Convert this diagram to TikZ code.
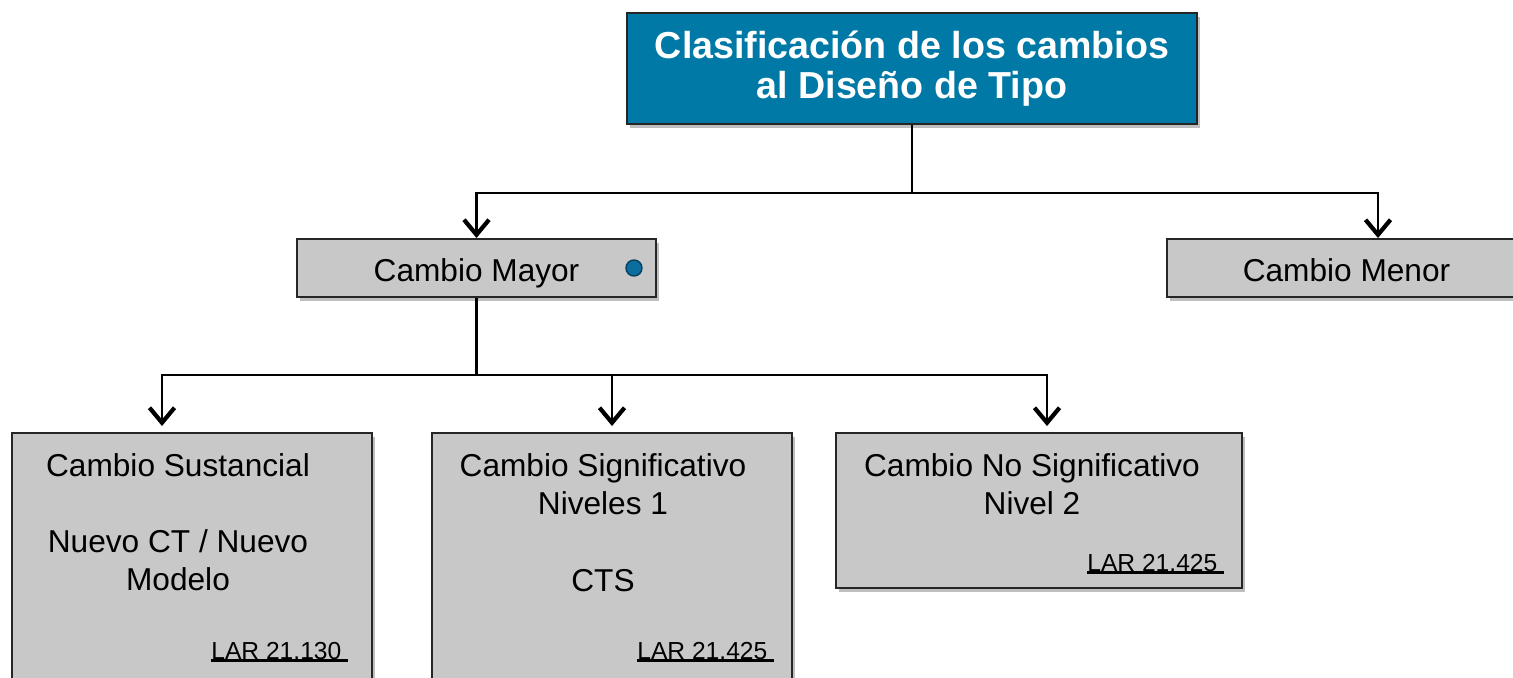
\documentclass[tikz,border=0pt]{standalone}
\usepackage{fontspec}
\setmainfont{Liberation Sans}
\usetikzlibrary{positioning,shadows,arrows.meta}

\definecolor{titleblue}{HTML}{0079A6}
\definecolor{boxgray}{HTML}{C8C8C8}
\definecolor{dotblue}{HTML}{0B6E9E}
\definecolor{dotedge}{HTML}{06405E}

% underlined reference with a trailing space, as on the slide
\newcommand{\larref}[1]{\setbox0\hbox{#1\ }\rlap{\rule[-1.6pt]{\wd0}{1.4pt}}\box0}

\tikzset{
  boxshadow/.style={drop shadow={shadow xshift=0.05cm, shadow yshift=-0.08cm, opacity=0.5}},
  titlebox/.style={draw=black!85, line width=1.4pt, fill=titleblue, text=white,
    font=\bfseries\fontsize{21.4}{22.7}\selectfont, align=center,
    minimum width=11.4cm, minimum height=2.22cm, boxshadow},
  levelbox/.style={draw=black!85, line width=1.1pt, fill=boxgray,
    font=\fontsize{18}{21.5}\selectfont, minimum width=7.18cm, minimum height=1.16cm,
    text height=0.62cm, text depth=0.1cm, boxshadow},
  changebox/.style={draw=black!85, line width=1.1pt, fill=boxgray,
    minimum width=7.2cm, minimum height=5.2cm, boxshadow},
  changetext/.style={font=\fontsize{18}{21.5}\selectfont, align=center, anchor=north, inner sep=0pt},
  lartext/.style={font=\fontsize{14}{16}\selectfont, anchor=base west, inner sep=0pt},
  dot/.style={circle, fill=dotblue, draw=dotedge, line width=0.8pt, minimum size=0.32cm, inner sep=0pt},
  link/.style={line width=1.3pt, -{Straight Barb[length=0.3cm,width=0.5cm,line width=2.4pt]}},
}

\begin{document}
\begin{tikzpicture}
    \useasboundingbox (0,0) rectangle (30.26,-13.54);

    \node[titlebox] (title) at (18.24,-1.37) {Clasificación de los cambios\\al Diseño de Tipo};

    \node[levelbox] (mayor) [below of = title, node distance = 3.99cm, xshift = -8.71cm] {Cambio Mayor};
    \node[levelbox] (menor) [right of = mayor, node distance = 17.4cm] {Cambio Menor};
    \node[dot] (mayorDot) at ([xshift=-0.46cm]mayor.east) {};

    \node[changebox] (sust) [below of = mayor, node distance = 5.9cm, xshift = -5.69cm] {};
    \node[changebox] (sig) [right of = sust, node distance = 8.4cm] {};
    \node[changebox, minimum width=8.12cm, minimum height=3.1cm] (nosig) [right of = sig, node distance = 8.54cm, yshift = 1.05cm] {};

    \node[changetext] (sustText) at ([xshift=-0.28cm, yshift=-0.43cm]sust.north) {Cambio Sustancial\\[21.5pt]Nuevo CT / Nuevo\\Modelo};
    \node[changetext] (sigText) at ([xshift=-0.18cm, yshift=-0.42cm]sig.north) {Cambio Significativo\\Niveles 1\\[22.5pt]CTS};
    \node[changetext] (nosigText) at ([xshift=-0.14cm, yshift=-0.42cm]nosig.north) {Cambio No Significativo\\Nivel 2};

    \node[lartext] (sustLar) at ([xshift=4.0cm, yshift=-4.54cm]sust.north west) {\larref{LAR 21.130}};
    \node[lartext] (sigLar) at ([xshift=4.12cm, yshift=-4.54cm]sig.north west) {\larref{LAR 21.425}};
    \node[lartext] (nosigLar) at ([xshift=5.04cm, yshift=-2.78cm]nosig.north west) {\larref{LAR 21.425}};

    \draw[link] (title.south) -- ++(0,-1.36) -| (mayor.north);
    \draw[link] (title.south) -- ++(0,-1.36) -| ([xshift=0.63cm]menor.north);
    \draw[link, shorten >=0.12cm] (mayor.south) -- ++(0,-1.54) -| ([xshift=-0.6cm]sust.north);
    \draw[link, shorten >=0.12cm] (mayor.south) -- ++(0,-1.54) -| (sig.north);
    \draw[link, shorten >=0.12cm] (mayor.south) -- ++(0,-1.54) -| ([xshift=0.16cm]nosig.north);
\end{tikzpicture}
\end{document}
